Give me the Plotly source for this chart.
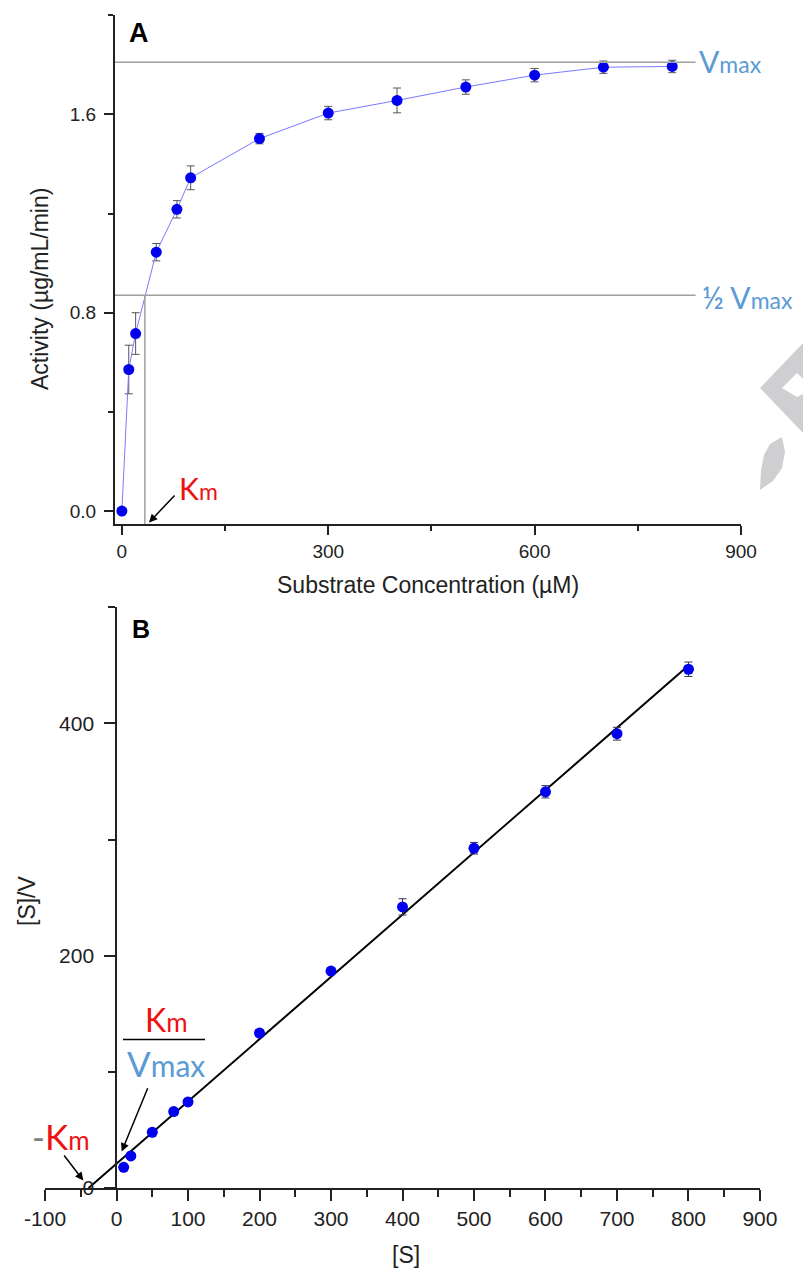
import numpy as np
import plotly.graph_objects as go

# ---------------- data ----------------
substrate = [0, 10, 20, 50, 80, 100, 200, 300, 400, 500, 600, 700, 800]
activity = [0.0, 0.571, 0.716, 1.044, 1.217, 1.344, 1.502, 1.605, 1.656, 1.710, 1.758, 1.790, 1.793]
activity_err = [0.0, 0.098, 0.084, 0.035, 0.035, 0.048, 0.021, 0.027, 0.05, 0.029, 0.027, 0.025, 0.025]

vmax_level = 1.81
half_vmax_level = 0.87
km_value = 33.4
guide_x_end = 834

s_b = [10, 20, 50, 80, 100, 200, 300, 400, 500, 600, 700, 800]
s_over_v = [17.8, 27.6, 48.0, 65.8, 74.1, 133.4, 186.8, 242.0, 292.5, 341.1, 391.1, 446.6]
s_over_v_err = [2, 2, 2, 2, 2, 3, 3, 7, 5, 5.3, 5.5, 6.2]

xticks_b = [-100, 0, 100, 200, 300, 400, 500, 600, 700, 800, 900]
xticklabels_b = ["-100", "0", "100", "200", "300", "400", "500", "600", "700", "800", "900"]

# ---------------- helpers ----------------
W, H = 803, 1276
def px(x):
    return x / W
def py(y):
    return 1 - y / H

AX = "#222222"
SANS = "Liberation Sans, Arial, sans-serif"
TICKFONT_A = dict(family=SANS, size=19, color=AX)
TICKFONT_B = dict(family=SANS, size=21, color=AX)
TITLEFONT = dict(family=SANS, size=23, color=AX)
BLUE_TXT = "#5b9bd5"
RED_TXT = "#ee1111"

fig = go.Figure()

# Panel A
fig.add_trace(go.Scatter(
    x=substrate, y=activity, mode="lines+markers",
    line=dict(color="#7a7aff", width=1),
    marker=dict(color="#0000ee", size=11),
    error_y=dict(type="data", array=activity_err, color="#555555", thickness=1, width=4),
    xaxis="x", yaxis="y", showlegend=False, cliponaxis=False))

# Panel B
slope, intercept = np.polyfit(s_b, s_over_v, 1)
x_int = -intercept / slope
fit_x = [x_int, max(s_b)]
fit_y = [slope * v + intercept for v in fit_x]
fig.add_trace(go.Scatter(
    x=fit_x, y=fit_y, mode="lines", line=dict(color="black", width=2),
    xaxis="x2", yaxis="y2", showlegend=False))
fig.add_trace(go.Scatter(
    x=s_b, y=s_over_v, mode="markers",
    marker=dict(color="#0000ee", size=11),
    error_y=dict(type="data", array=s_over_v_err, color="#333355", thickness=1, width=4),
    xaxis="x2", yaxis="y2", showlegend=False))

# guide lines (panel A)
gl = dict(color="#a0a0a0", width=1.5)
fig.add_shape(type="line", xref="x", yref="y", x0=-10, x1=guide_x_end, y0=vmax_level, y1=vmax_level, line=gl)
fig.add_shape(type="line", xref="x", yref="y", x0=-10, x1=guide_x_end, y0=half_vmax_level, y1=half_vmax_level, line=gl)
fig.add_shape(type="line", xref="x", yref="y", x0=km_value, x1=km_value, y0=-0.052, y1=half_vmax_level, line=gl)

# watermark
wm = "#cfcfd1"
def pth(points):
    return "M " + " L ".join(f"{px(a):.5f},{py(b):.5f}" for a, b in points) + " Z"
fig.add_shape(type="path", xref="paper", yref="paper", layer="below",
              path=pth([(803, 343), (760, 388), (803, 433)]), fillcolor=wm, line=dict(width=0))
fig.add_shape(type="path", xref="paper", yref="paper", layer="below",
              path=pth([(782, 388), (797, 373), (803, 379), (803, 394), (797, 397)]),
              fillcolor="white", line=dict(width=0))
fig.add_shape(type="path", xref="paper", yref="paper", layer="below",
              path=pth([(782, 437), (785, 452), (782, 468), (773, 481), (760, 490),
                        (761, 470), (764, 455), (770, 444)]),
              fillcolor=wm, line=dict(width=0))

# fraction bar (panel B)
fig.add_shape(type="line", xref="paper", yref="paper", x0=px(123), x1=px(205), y0=py(1039.5), y1=py(1039.5),
              line=dict(color="black", width=1.5))

ann = []
# panel labels
ann.append(dict(x=px(138.5), y=py(33.5), text="<b>A</b>", font=dict(family=SANS, size=27, color="black")))
ann.append(dict(x=px(141), y=py(629), text="<b>B</b>", font=dict(family=SANS, size=25, color="black")))
# axis titles
ann.append(dict(x=px(40), y=py(289), text="Activity (µg/mL/min)", textangle=-90, font=TITLEFONT))
ann.append(dict(x=px(428), y=py(585), text="Substrate Concentration (µM)", font=TITLEFONT))
ann.append(dict(x=px(27), y=py(901), text="[S]/V", textangle=-90, font=TITLEFONT))
ann.append(dict(x=px(406), y=py(1255), text="[S]", font=TITLEFONT))

LATO = "Lato, Open Sans, sans-serif"
def vmax_txt(pre="", sub=23):
    return pre + f"V<span style='font-size:{sub}px'>max</span>"
ann.append(dict(x=px(697), y=py(61), xanchor="left", text=vmax_txt(),
                font=dict(family=LATO, size=30, color=BLUE_TXT)))
ann.append(dict(x=px(700), y=py(297), xanchor="left", text=vmax_txt("½ "),
                font=dict(family=LATO, size=30, color=BLUE_TXT)))
ann.append(dict(x=px(177), y=py(488), xanchor="left", text="K<span style='font-size:23px'>m</span>",
                font=dict(family=LATO, size=30, color=RED_TXT)))
ann.append(dict(x=px(166), y=py(1019), text="K<span style='font-size:26px'>m</span>",
                font=dict(family=LATO, size=32, color=RED_TXT)))
ann.append(dict(x=px(166), y=py(1063), text=vmax_txt(sub=30),
                font=dict(family=LATO, size=35, color=BLUE_TXT)))
ann.append(dict(x=px(30), y=py(1136), xanchor="left",
                text="<span style='color:#808080'>-</span>K<span style='font-size:26px'>m</span>",
                font=dict(family=LATO, size=35, color=RED_TXT)))
for a in ann:
    a.setdefault("xanchor", "center")
    a.setdefault("yanchor", "middle")
    a.update(xref="paper", yref="paper", showarrow=False)

# arrows
def arrow(tail, head):
    return dict(xref="paper", yref="paper", x=px(head[0]), y=py(head[1]),
                ax=tail[0] - head[0], ay=tail[1] - head[1], axref="pixel", ayref="pixel",
                text="", showarrow=True, arrowhead=2, arrowsize=1.1, arrowwidth=1.5, arrowcolor="black")
ann.append(arrow((176, 494), (149, 522.5)))
ann.append(arrow((148.3, 1086.7), (121.7, 1151.5)))
ann.append(arrow((63, 1154), (83.3, 1180.5)))

common = dict(showline=True, linewidth=2, linecolor=AX, ticks="outside", tickwidth=1.5, tickcolor=AX,
              showgrid=False, zeroline=False, automargin=False)

fig.update_layout(
    width=W, height=H, margin=dict(l=0, r=0, t=0, b=0, pad=0, autoexpand=False),
    paper_bgcolor="white", plot_bgcolor="white", showlegend=False,
    annotations=ann,
    xaxis=dict(domain=[px(115), px(741)], anchor="y", range=[-10, 900.01],
               tickvals=[0, 300, 600, 900], ticklen=9, tickfont=TICKFONT_A,
               minor=dict(ticks="outside", tick0=0, dtick=150, ticklen=5, tickwidth=1.5, tickcolor=AX),
               **common),
    yaxis=dict(domain=[py(524), py(15)], anchor="x", range=[-0.052, 2.0005],
               tickvals=[0, 0.8, 1.6], ticktext=["0.0", "0.8", "1.6"], ticklen=9, tickfont=TICKFONT_A,
               ticklabelstandoff=4,
               minor=dict(ticks="outside", tick0=0, dtick=0.4, ticklen=5, tickwidth=1.5, tickcolor=AX),
               **common),
    xaxis2=dict(domain=[px(45), px(760)], anchor="y2", range=[-100.05, 900.05],
                tickvals=xticks_b, ticktext=xticklabels_b, ticklen=11, tickfont=TICKFONT_B,
                minor=dict(ticks="outside", tick0=0, dtick=50, ticklen=7, tickwidth=1.5, tickcolor=AX),
                **common),
    yaxis2=dict(domain=[py(1188), py(607)], anchor="free", position=px(116.3), range=[0, 500.2],
                tickvals=[0, 200, 400], ticklen=11, tickfont=TICKFONT_B, ticklabelstandoff=6,
                minor=dict(ticks="outside", tick0=0, dtick=100, ticklen=7, tickwidth=1.5, tickcolor=AX),
                **common),
)

fig.write_html("out.html")
